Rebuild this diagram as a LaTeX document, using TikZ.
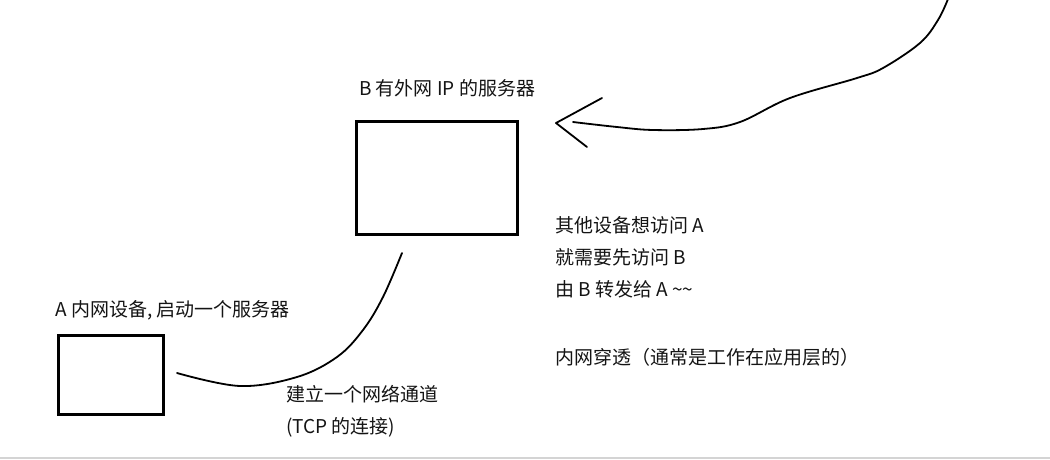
\documentclass[tikz,border=0pt]{standalone}
\usepackage{fontspec}
\setmainfont{Noto Sans CJK SC}
\usetikzlibrary{calc}

\begin{document}
\begin{tikzpicture}[x=1pt,y=-1pt,
    box/.style={draw,line width=3pt,inner sep=0pt},
    note/.style={anchor=west,inner sep=0pt,align=left,text=black!92,
      font=\fontsize{19}{32}\selectfont},
    pen/.style={line width=1.8pt,line cap=round,line join=round}]
  \useasboundingbox (0,0) rectangle (1050,459);
  \fill[black!17] (0,456.5) rectangle (1050,459);
  % the two servers
  \node[box,minimum width=161pt,minimum height=113pt] (srvB) at (437,178) {};
  \node[box,minimum width=105pt,minimum height=79pt] (devA) at (111,375) {};
  \node[note] (labB) at (359,88) {B 有外网 IP 的服务器};
  \node[note] (labA) at (55,310) {A 内网设备, 启动一个服务器};
  % texts
  \node[note,anchor=north west] (visit) at (555,216) {其他设备想访问 A\\就需要先访问 B\\由 B 转发给 A \textasciitilde\textasciitilde};
  \node[note] (nat) at (555,357) {内网穿透（通常是工作在应用层的）};
  \node[note,anchor=north west] (tunnel) at (286,385) {建立一个网络通道\\(TCP 的连接)};
  % tunnel from A up to B
  \coordinate (tA) at ($(devA.east)+(12,-2)$);
  \coordinate (tB) at ($(srvB.south)+(-35,17)$);
  \draw[pen] plot[smooth,tension=0.6] coordinates {(tA) (240,386) (297,377) (337,357) (363,330) (383,297) (tB)};
  % request coming in from outside
  \coordinate (tip) at (556,123);
  \coordinate (far) at (948,-1);
  \draw[pen] plot[smooth,tension=0.6] coordinates {(far) (938,20) (920,43) (883,68) (857,78) (790,98) (740,122) (703,129) (653,130) (617,127) (573,122)};
  \draw[pen] (602,98) -- (tip) -- (587,147);
\end{tikzpicture}
\end{document}
